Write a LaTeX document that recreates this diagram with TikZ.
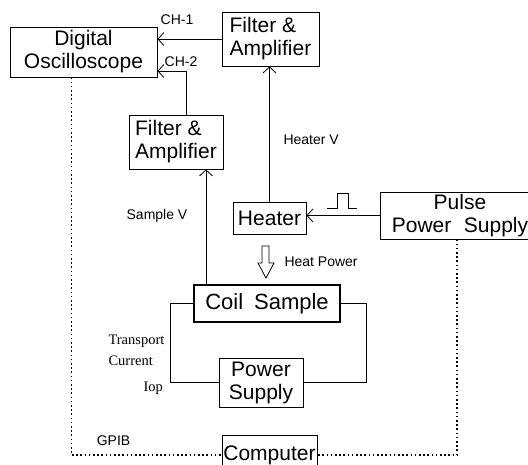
\documentclass[tikz,border=0pt]{standalone}
\usepackage{fontspec}
\setmainfont{Liberation Sans}
\newfontfamily\lblserif{Liberation Serif}
\usepackage{tikz}
\usetikzlibrary{arrows.meta,calc}

\begin{document}
\begin{tikzpicture}[
    x=1pt, y=-1pt,
    box/.style={rectangle, draw, line width=0.8pt, inner sep=0pt,
                font=\fontsize{21}{23}\selectfont, align=center},
    coilbox/.style={box, line width=2.4pt, font=\fontsize{22}{24}\selectfont},
    arr/.style={-{Straight Barb[length=6pt, width=13pt]}, line width=0.8pt},
    wire/.style={line width=0.8pt},
    gpib/.style={line width=1.6pt, dash pattern=on 1.6pt off 2.6pt},
    lbl/.style={font=\fontsize{14}{16}\selectfont},
    lblserif/.style={font=\fontsize{14.5}{16}\lblserif, anchor=west}
]
\clip (0,0) rectangle (528,464);

% boxes
\node[box, minimum width=147pt, minimum height=50pt] (scope) at (83.5,52) {Digital\\Oscilloscope};
\node[box, minimum width=97pt, minimum height=54pt, align=left] (filtH) at (270.5,39) {Filter \&\\Amplifier};
\node[box, minimum width=94pt, minimum height=54pt, align=left] (filtS) at (176,142) {Filter \&\\Amplifier};
\node[box, minimum width=73pt, minimum height=32pt] (heater) at (269.5,218) {Heater};
\node[box, minimum width=160pt, minimum height=47pt] (pulse) at (460,215.5) {Pulse\\Power\hspace{0.6em}Supply};
\node[coilbox, minimum width=146pt, minimum height=37pt] (coil) at (267,303.5) {Coil\hspace{0.5em}Sample};
\node[box, minimum width=84pt, minimum height=49pt] (psup) at (261,382.5) {Power\\Supply};
\node[box, minimum width=95pt, minimum height=40pt] (comp) at (269.5,455) {Computer};

% signal paths
\draw[arr] (filtH.west) -- (filtH.west -| scope.east);
\draw[arr] ([xshift=10pt]filtS.north) |- ([yshift=-19pt]scope.east);
\draw[arr] ([xshift=30pt]filtS.south |- coil.north) -- ([xshift=30pt]filtS.south);
\draw[arr] (heater.north) -- (heater.north |- filtH.south);
\draw[arr] (pulse.west) -- (pulse.west -| heater.east);

% pulse symbol
\draw[wire] (327,208) -- (337,208) -- (337,193) -- (348,193) -- (348,208) -- (357,208);

% heat power arrow
\draw[wire] (262,246) -- (269,246) -- (269,263) -- (274,263) -- (266,278)
    -- (258,263) -- (262,263) -- cycle;

% transport current loop
\draw[wire] (coil.west) -- ++(-22,0) |- (psup.west);
\draw[wire] (coil.east) -- ++(25,0) |- (psup.east);

% GPIB bus
\draw[gpib] ([xshift=-12pt]scope.south) |- (comp.west);
\draw[gpib] ([xshift=-3pt]pulse.south) |- (comp.east);

% labels
\node[lbl] (ch1) at (177,20) {CH-1};
\node[lbl] (ch2) at (181,62) {CH-2};
\node[lbl] (sampleV) at (157,216) {Sample V};
\node[lbl, anchor=west] (heaterV) at (280,140) {Heater V};
\node[lbl, anchor=west] (heatP) at (281,262) {Heat Power};
\node[lblserif] (tr) at (105,341) {Transport};
\node[lblserif] (cur) at (105,361) {Current};
\node[lblserif] (iop) at (140,388) {Iop};
\node[lbl] (gpibL) at (113.5,441) {GPIB};
\end{tikzpicture}
\end{document}
